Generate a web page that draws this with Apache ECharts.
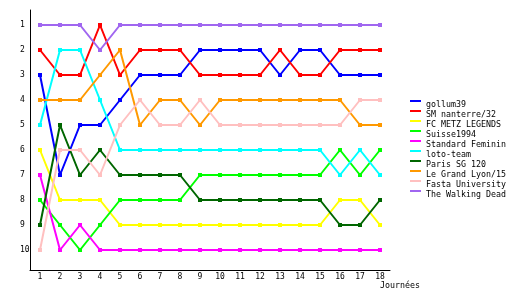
<!DOCTYPE html>
<html>
<head>
<meta charset="utf-8">
<script src="https://cdn.jsdelivr.net/npm/echarts@6/dist/echarts.min.js"></script>
<style>html,body{margin:0;padding:0;background:#fff}#c{width:530px;height:300px}</style>
</head>
<body>
<div id="c"></div>
<script>
var journees = ['1','2','3','4','5','6','7','8','9','10','11','12','13','14','15','16','17','18'];
var rankTicks = [1,2,3,4,5,6,7,8,9,10];
var teams = ['gollum39','SM nanterre/32','FC METZ LEGENDS','Suisse1994','Standard Feminin','loto-team','Paris SG 120','Le Grand Lyon/15','Fasta University','The Walking Dead'];
var gollum39        = [3,7,5,5,4,3,3,3,2,2,2,2,3,2,2,3,3,3];
var smNanterre      = [2,3,3,1,3,2,2,2,3,3,3,3,2,3,3,2,2,2];
var fcMetz          = [6,8,8,8,9,9,9,9,9,9,9,9,9,9,9,8,8,9];
var suisse1994      = [8,9,10,9,8,8,8,8,7,7,7,7,7,7,7,6,7,6];
var standardFeminin = [7,10,9,10,10,10,10,10,10,10,10,10,10,10,10,10,10,10];
var lotoTeam        = [5,2,2,4,6,6,6,6,6,6,6,6,6,6,6,7,6,7];
var parisSG         = [9,5,7,6,7,7,7,7,8,8,8,8,8,8,8,9,9,8];
var grandLyon       = [4,4,4,3,2,5,4,4,5,4,4,4,4,4,4,4,5,5];
var fasta           = [10,6,6,7,5,4,5,5,4,5,5,5,5,5,5,5,4,4];
var walkingDead     = [1,1,1,2,1,1,1,1,1,1,1,1,1,1,1,1,1,1];
var seriesValues = [gollum39, smNanterre, fcMetz, suisse1994, standardFeminin, lotoTeam, parisSG, grandLyon, fasta, walkingDead];
var colors = ['#0000ff','#ff0000','#ffff00','#00ff00','#ff00ff','#00ffff','#006600','#ff9900','#ffc0c0','#a066f0'];

var FONT = 'DejaVu Sans Mono';
var chart = echarts.init(document.getElementById('c'), null, {renderer:'canvas'});
var series = teams.map(function(n, i){
  return {
    name: n, type: 'line', data: seriesValues[i],
    symbol: 'rect', symbolSize: 4, showSymbol: true,
    lineStyle: {width: 2, color: colors[i]},
    itemStyle: {color: colors[i]},
    animation: false
  };
});
chart.setOption({
  animation: false,
  color: colors,
  grid: {left: 30, top: 10, right: 140, bottom: 30},
  xAxis: {
    type: 'category', data: journees, boundaryGap: true,
    axisLine: {lineStyle: {color: '#000', width: 1}},
    axisTick: {show: false},
    axisLabel: {color: '#000', fontFamily: FONT, fontSize: 8, margin: 3, interval: 0},
    name: 'Journées', nameLocation: 'end', nameGap: -10,
    nameTextStyle: {color: '#000', fontFamily: FONT, fontSize: 8.3, align: 'left', verticalAlign: 'top', padding: [12,0,0,0]}
  },
  yAxis: {
    type: 'value', inverse: true, min: 0.4, max: 10.8,
    axisLine: {show: true, lineStyle: {color: '#000', width: 1}},
    axisTick: {show: false},
    splitLine: {show: false},
    axisLabel: {color: '#000', fontFamily: FONT, fontSize: 8, align: 'left', margin: 10, customValues: rankTicks}
  },
  legend: {
    orient: 'vertical', left: 405, top: 95,
    itemWidth: 11, itemHeight: 9, itemGap: 1,
    icon: 'path://M0,0H11V2H0Z M0,9H0.01V9.01H0Z',
    textStyle: {color: '#000', fontFamily: FONT, fontSize: 8.3, lineHeight: 9, padding: [0,0,0,0]},
    data: teams
  },
  series: series
});
</script>
</body>
</html>
